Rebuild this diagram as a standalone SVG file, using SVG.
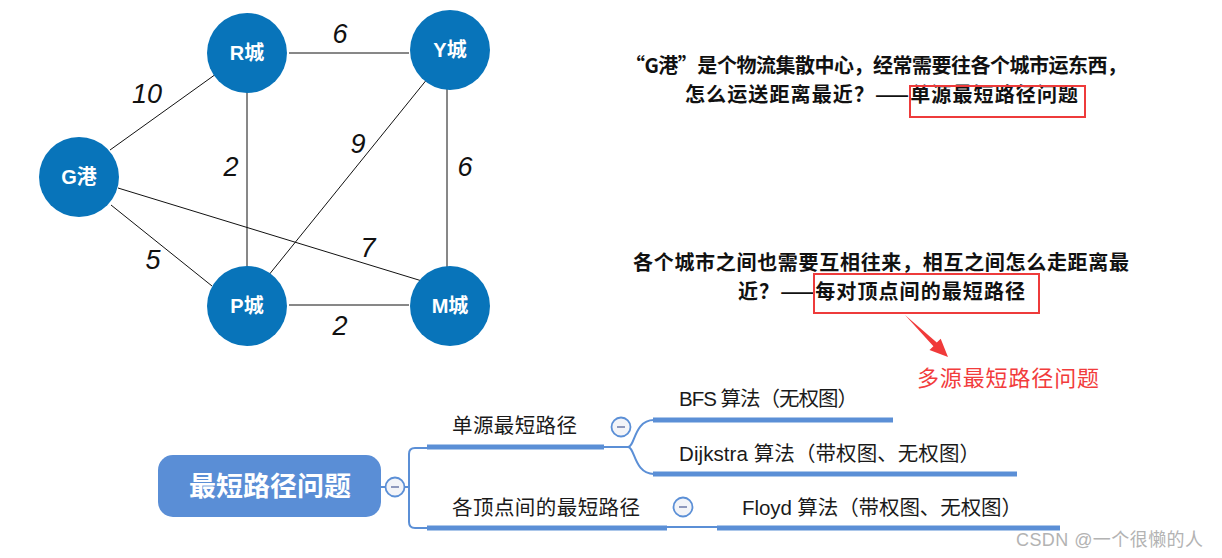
<svg xmlns="http://www.w3.org/2000/svg" width="1222" height="558" viewBox="0 0 1222 558">
<style>
.edge{stroke:#111;stroke-width:1;fill:none}
.node circle{fill:#0874ba}
.node text{fill:#fff;font-family:"Liberation Sans","Noto Sans CJK SC",sans-serif;font-size:20px;font-weight:bold;text-anchor:middle}
.w{font-family:"Liberation Sans",sans-serif;font-style:italic;font-size:27px;fill:#111;text-anchor:middle}
.q{font-family:"Noto Sans CJK SC",sans-serif;font-size:20px;font-weight:bold;fill:#111}
.redbox{fill:none;stroke:#ee3b3b;stroke-width:2}
.mm{font-family:"Liberation Sans","Noto Sans CJK SC",sans-serif;font-size:20.5px;fill:#1a1a1a}
.thin{stroke:#5b8fd6;stroke-width:2;fill:none}
.thick{stroke:#5b8fd6;stroke-width:5;fill:none}
.tog circle{fill:#f3f4f8;stroke:#5b8fd6;stroke-width:1.8}
.tog line{stroke:#8e98bc;stroke-width:2}
</style>
<g id="connectors">
<line class="edge" x1="289" y1="53" x2="409" y2="53"/>
<line class="edge" x1="110" y1="150" x2="216" y2="74"/>
<line class="edge" x1="247" y1="89" x2="247" y2="267"/>
<line class="edge" x1="428" y1="78" x2="268" y2="276"/>
<line class="edge" x1="447" y1="89" x2="447" y2="267"/>
<line class="edge" x1="118" y1="188" x2="422" y2="281"/>
<line class="edge" x1="111" y1="205" x2="212" y2="286"/>
<line class="edge" x1="289" y1="305" x2="409" y2="305"/>
</g>
<g id="weights">
<text class="w" x="340" y="43">6</text>
<text class="w" x="147" y="103">10</text>
<text class="w" x="231" y="176">2</text>
<text class="w" x="358" y="153">9</text>
<text class="w" x="465" y="176">6</text>
<text class="w" x="153" y="269">5</text>
<text class="w" x="368" y="257">7</text>
<text class="w" x="340" y="335">2</text>
</g>
<g id="node-R" class="node"><circle cx="247" cy="53" r="40"/><text x="247" y="60">R城</text></g>
<g id="node-Y" class="node"><circle cx="450" cy="50" r="40"/><text x="450" y="57">Y城</text></g>
<g id="node-G" class="node"><circle cx="79" cy="177" r="40"/><text x="79" y="184">G港</text></g>
<g id="node-P" class="node"><circle cx="247" cy="306" r="40"/><text x="247" y="313">P城</text></g>
<g id="node-M" class="node"><circle cx="450" cy="306" r="40"/><text x="450" y="313">M城</text></g>

<g id="note1">
<text class="q" x="625" y="73" textLength="502" lengthAdjust="spacing">“G港”是个物流集散中心，经常需要往各个城市运东西，</text>
<text class="q" x="685" y="102" textLength="393" lengthAdjust="spacing">怎么运送距离最近？——单源最短路径问题</text>
<rect class="redbox" x="910" y="86" width="175" height="31"/>
</g>
<g id="note2">
<text class="q" x="633" y="270" textLength="496" lengthAdjust="spacing">各个城市之间也需要互相往来，相互之间怎么走距离最</text>
<text class="q" x="738" y="299" textLength="287" lengthAdjust="spacing">近？——每对顶点间的最短路径</text>
<rect class="redbox" x="814" y="274" width="225" height="39"/>
<polygon points="905,315 936.8,342.6 940.7,338.7 948,357 929.5,350.1 933.4,346.2" fill="#f03a3a"/>
<text x="917" y="386" font-family="Noto Sans CJK SC, sans-serif" font-size="22" fill="#f23c3c" textLength="182" lengthAdjust="spacing">多源最短路径问题</text>
</g>

<g id="mindmap-connectors">
<line class="thin" x1="380" y1="487" x2="386" y2="487"/>
<line class="thin" x1="404" y1="487" x2="409" y2="487"/>
<path class="thin" d="M427 448 H415 Q409 448 409 454 V522 Q409 528 415 528 H427"/>
<line class="thick" x1="427" y1="447" x2="604" y2="447"/>
<path class="thin" d="M604 447 H628 C635 447 634 420 654 420"/>
<path class="thin" d="M628 447 C635 447 634 474 654 474"/>
<line class="thick" x1="653" y1="420" x2="893" y2="420"/>
<line class="thick" x1="653" y1="474" x2="1017" y2="474"/>
<line class="thick" x1="427" y1="528" x2="667" y2="528"/>
<line class="thin" x1="667" y1="527" x2="717" y2="527"/>
<line class="thick" x1="717" y1="528" x2="1060" y2="528"/>
</g>
<g id="mm-root">
<rect x="158" y="455" width="223" height="62" rx="15" fill="#5a8ed6"/>
<text x="270" y="496" font-family="Noto Sans CJK SC, sans-serif" font-size="27" font-weight="bold" fill="#fff" text-anchor="middle">最短路径问题</text>
</g>
<g id="mm-toggle-root" class="tog"><circle cx="395" cy="487" r="9.5"/><line x1="391" y1="487" x2="399" y2="487"/></g>
<g id="mm-single"><text class="mm" x="452" y="433" textLength="125" lengthAdjust="spacing">单源最短路径</text></g>
<g id="mm-toggle-single" class="tog"><circle cx="621" cy="427" r="9.5"/><line x1="617" y1="427" x2="625" y2="427"/></g>
<g id="mm-bfs"><text class="mm" x="679" y="406" textLength="179" lengthAdjust="spacing">BFS 算法（无权图）</text></g>
<g id="mm-dijkstra"><text class="mm" x="679" y="461" textLength="301" lengthAdjust="spacing">Dijkstra 算法（带权图、无权图）</text></g>
<g id="mm-all"><text class="mm" x="452" y="515" textLength="188" lengthAdjust="spacing">各顶点间的最短路径</text></g>
<g id="mm-toggle-all" class="tog"><circle cx="683" cy="507" r="9.5"/><line x1="679" y1="507" x2="687" y2="507"/></g>
<g id="mm-floyd"><text class="mm" x="742" y="515" textLength="280" lengthAdjust="spacing">Floyd 算法（带权图、无权图）</text></g>

<text x="1016" y="546" font-family="Liberation Sans, Noto Sans CJK SC, sans-serif" font-size="18" fill="#b3b3b3" textLength="187" lengthAdjust="spacing">CSDN @一个很懒的人</text>
</svg>
